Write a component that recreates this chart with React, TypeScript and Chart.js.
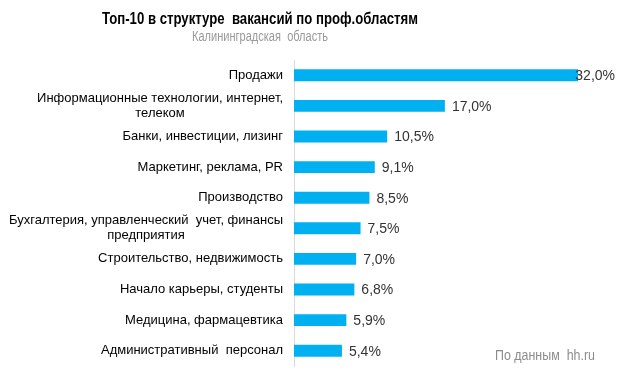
import React, { useEffect, useRef } from "react";
import { Chart, registerables } from "chart.js";

Chart.register(...registerables);

const TITLE = "Топ-10 в структуре  вакансий по проф.областям";
const SUBTITLE = "Калининградская  область";
const SOURCE = "По данным  hh.ru";

const categories: (string | string[])[] = [
  "Продажи",
  ["Информационные технологии, интернет,", "телеком"],
  "Банки, инвестиции, лизинг",
  "Маркетинг, реклама, PR",
  "Производство",
  ["Бухгалтерия, управленческий  учет, финансы", "предприятия"],
  "Строительство, недвижимость",
  "Начало карьеры, студенты",
  "Медицина, фармацевтика",
  "Административный  персонал",
];

const values: number[] = [32.0, 17.0, 10.5, 9.1, 8.5, 7.5, 7.0, 6.8, 5.9, 5.4];

const fmt = (v: number) => v.toFixed(1).replace(".", ",") + "%";

const overlay = {
  id: "overlay",
  afterDraw(chart: any) {
    const ctx = chart.ctx as CanvasRenderingContext2D;
    const yScale = chart.scales.y;
    ctx.save();
    ctx.textBaseline = "middle";

    // title & subtitle
    ctx.textAlign = "center";
    ctx.fillStyle = "#000000";
    ctx.font = 'bold 17px "Liberation Sans", Arial, sans-serif';
    ctx.fillText(TITLE, 260, 19, 316);
    ctx.fillStyle = "#9a9a9a";
    ctx.font = '14px "Liberation Sans", Arial, sans-serif';
    ctx.fillText(SUBTITLE, 260, 37, 136);

    // source
    ctx.textAlign = "left";
    ctx.fillStyle = "#8c8c8c";
    ctx.font = '14px "Liberation Sans", Arial, sans-serif';
    ctx.fillText(SOURCE, 495, 356, 100);

    // category labels (multi-line block right aligned, lines centered)
    ctx.fillStyle = "#000000";
    ctx.font = '13px "Liberation Sans", Arial, sans-serif';
    ctx.textAlign = "center";
    const right = yScale.right - 11;
    categories.forEach((lab, i) => {
      const lines = Array.isArray(lab) ? lab : [lab];
      const yc = yScale.getPixelForValue(i);
      const w = Math.max(...lines.map((l) => ctx.measureText(l).width));
      const cx = right - w / 2;
      lines.forEach((l, j) => {
        ctx.fillText(l, cx, yc + (j - (lines.length - 1) / 2) * 15);
      });
    });

    // value labels
    ctx.fillStyle = "#333333";
    ctx.font = '14px "Liberation Sans", Arial, sans-serif';
    ctx.textAlign = "left";
    const meta = chart.getDatasetMeta(0);
    meta.data.forEach((bar: any, i: number) => {
      const txt = fmt(values[i]);
      const w = ctx.measureText(txt).width;
      const x = Math.min(bar.x + 7, 615 - w);
      ctx.fillText(txt, x, bar.y + 1);
    });
    ctx.restore();
  },
};

export default function App() {
  const ref = useRef<HTMLCanvasElement | null>(null);
  useEffect(() => {
    if (!ref.current) return;
    const chart = new Chart(ref.current, {
      type: "bar",
      data: {
        labels: categories as any,
        datasets: [
          {
            data: values,
            backgroundColor: "#00B0F0",
            borderWidth: 0,
            categoryPercentage: 1,
            barPercentage: 0.39,
          },
        ],
      },
      options: {
        indexAxis: "y",
        responsive: false,
        animation: false,
        layout: { padding: { left: 0, right: 42, top: 60, bottom: 15 } },
        plugins: {
          legend: { display: false },
          tooltip: { enabled: false },
          title: { display: false },
        },
        scales: {
          x: { display: false, min: 0, max: 32 },
          y: {
            ticks: { display: false },
            grid: { display: false },
            border: { display: true, color: "#d9d9d9", width: 1 },
            afterFit: (scale: any) => {
              scale.width = 294;
            },
          },
        },
      },
      plugins: [overlay],
    });
    return () => chart.destroy();
  }, []);
  return (
    <div style={{ position: "absolute", left: 0, top: 0, width: 620, height: 381, background: "#fff" }}>
      <canvas ref={ref} width={620} height={381} style={{ display: "block" }} />
    </div>
  );
}
